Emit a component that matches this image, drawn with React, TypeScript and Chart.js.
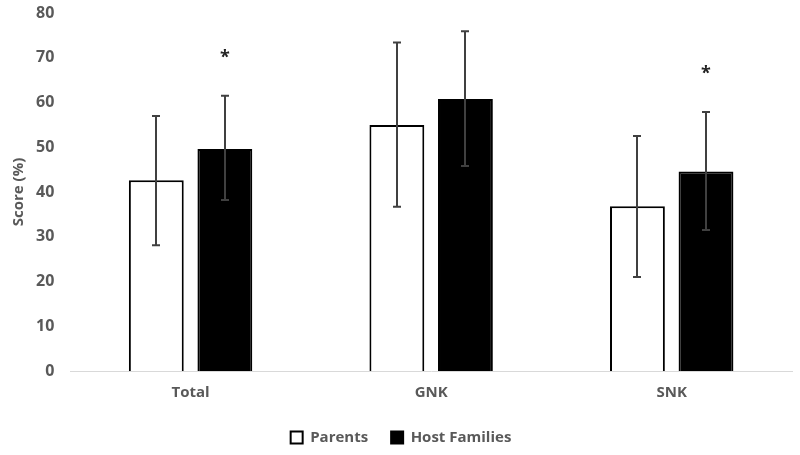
import React, { useEffect, useRef } from "react";
import Chart from "chart.js/auto";

const categories = ["Total", "GNK", "SNK"];
const parentsMean = [42.6, 55.0, 36.8];
const parentsLow = [28.1, 36.7, 21.0];
const parentsHigh = [57.0, 73.4, 52.5];
const hostMean = [49.6, 60.8, 44.6];
const hostLow = [38.2, 45.8, 31.5];
const hostHigh = [61.5, 75.9, 57.9];
const hostSignificant = [true, false, true];
const yTicks = [0, 10, 20, 30, 40, 50, 60, 70, 80];

const FONT = "'Open Sans', 'Liberation Sans', sans-serif";
const TEXT = "#595959";

const errorBars = {
  id: "errorBars",
  afterDatasetsDraw(chart: any) {
    const { ctx, scales } = chart;
    const y = scales.y;
    const ranges = [
      [parentsLow, parentsHigh],
      [hostLow, hostHigh],
    ];
    ctx.save();
    ctx.strokeStyle = "#404040";
    ctx.lineWidth = 2;
    chart.data.datasets.forEach((_: any, di: number) => {
      const meta = chart.getDatasetMeta(di);
      meta.data.forEach((bar: any, i: number) => {
        const top = y.getPixelForValue(ranges[di][1][i]);
        const bot = y.getPixelForValue(ranges[di][0][i]);
        const x = Math.round(bar.x);
        ctx.beginPath();
        ctx.moveTo(x, top);
        ctx.lineTo(x, bot);
        ctx.moveTo(x - 4, top);
        ctx.lineTo(x + 4, top);
        ctx.moveTo(x - 4, bot);
        ctx.lineTo(x + 4, bot);
        ctx.stroke();
        if (di === 1 && hostSignificant[i]) {
          ctx.fillStyle = "#222";
          ctx.font = `bold 18px ${FONT}`;
          ctx.textAlign = "center";
          ctx.textBaseline = "middle";
          ctx.fillText("*", x, top - 38);
        }
      });
    });
    ctx.restore();
  },
};

const App: React.FC = () => {
  const canvasRef = useRef<HTMLCanvasElement | null>(null);
  const chartRef = useRef<Chart | null>(null);

  useEffect(() => {
    document.body.style.margin = "0";
    const ctx = canvasRef.current?.getContext("2d");
    if (!ctx) return;
    chartRef.current = new Chart(ctx, {
      type: "bar",
      data: {
        labels: categories,
        datasets: [
          {
            label: "Parents",
            data: parentsMean,
            backgroundColor: "#ffffff",
            borderColor: "#000000",
            borderWidth: 2,
            categoryPercentage: 0.57,
            barPercentage: 0.8,
          },
          {
            label: "Host Families",
            data: hostMean,
            backgroundColor: "#000000",
            borderColor: "#000000",
            borderWidth: 2,
            categoryPercentage: 0.57,
            barPercentage: 0.8,
          },
        ],
      },
      options: {
        responsive: false,
        animation: false,
        layout: { padding: { top: 0, right: 8, left: 10, bottom: 0 } },
        plugins: {
          tooltip: { enabled: false },
          legend: {
            position: "bottom",
            labels: {
              color: TEXT,
              font: { family: FONT, size: 15, weight: "bold" },
              boxWidth: 12,
              boxHeight: 12,
              padding: 23,
            },
          },
        },
        scales: {
          x: {
            grid: { display: false },
            border: { color: "#d9d9d9", width: 1 },
            ticks: {
              color: TEXT,
              font: { family: FONT, size: 15, weight: "bold" },
              padding: 5,
            },
          },
          y: {
            min: 0,
            max: 80,
            afterBuildTicks: (axis: any) => {
              axis.ticks = yTicks.map((v) => ({ value: v }));
            },
            afterFit: (axis: any) => {
              axis.paddingTop = 13;
            },
            grid: { display: false },
            border: { display: false },
            ticks: {
              color: TEXT,
              font: { family: FONT, size: 16, weight: "bold" },
              padding: 8,
            },
            title: {
              display: true,
              text: "Score (%)",
              color: TEXT,
              font: { family: FONT, size: 15, weight: "bold" },
              padding: { top: 0, bottom: 0 },
            },
          },
        },
      },
      plugins: [errorBars],
    });
    return () => {
      chartRef.current?.destroy();
      chartRef.current = null;
    };
  }, []);

  return <canvas ref={canvasRef} width={800} height={455} />;
};

export default App;
